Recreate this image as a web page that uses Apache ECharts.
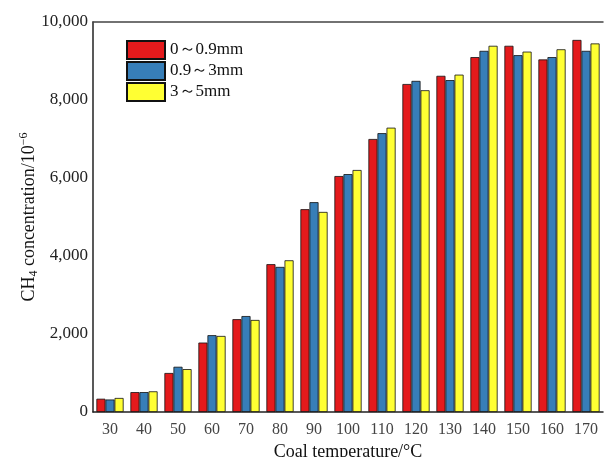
<!DOCTYPE html>
<html>
<head>
<meta charset="utf-8">
<script src="https://cdn.jsdelivr.net/npm/echarts@6/dist/echarts.min.js"></script>
<style>html,body{margin:0;padding:0;background:#fff;overflow:hidden}#c{width:604px;height:457px}</style>
</head>
<body>
<div id="c"></div>
<script>
var categories = ['30','40','50','60','70','80','90','100','110','120','130','140','150','160','170'];
var seriesNames = ['0～0.9mm', '0.9～3mm', '3～5mm'];
var fine   = [340, 510, 1000, 1780, 2380, 3790, 5200, 6050, 7000, 8410, 8620, 9100, 9390, 9040, 9540];
var medium = [320, 510, 1160, 1970, 2460, 3720, 5380, 6100, 7150, 8490, 8510, 9260, 9150, 9100, 9260];
var coarse = [360, 530, 1100, 1950, 2360, 3890, 5130, 6205, 7290, 8250, 8650, 9390, 9240, 9300, 9450];
var yTicks = [0, 2000, 4000, 6000, 8000, 10000];

var colors = ['#E41A1C', '#377EB8', '#FFFF33'];
var fontFam = '"Liberation Serif", "Times New Roman", serif';
var chart = echarts.init(document.getElementById('c'), null, {renderer: 'canvas'});

function mk(i, data) {
  return {
    name: seriesNames[i], type: 'bar', data: data,
    barGap: '0%', barCategoryGap: '20%',
    itemStyle: {color: colors[i], borderColor: '#111', borderWidth: 0.8},
    emphasis: {disabled: true}
  };
}

chart.setOption({
  animation: false,
  backgroundColor: '#fff',
  grid: {left: 93, top: 22, right: 1, bottom: 45, containLabel: false, outerBoundsMode: 'none'},
  legend: {
    orient: 'vertical', left: 126, top: 40, itemWidth: 38, itemHeight: 18, itemGap: 1,
    padding: 0,
    icon: 'rect',
    data: seriesNames,
    textStyle: {fontFamily: fontFam, fontSize: 17, color: '#111', lineHeight: 18}
  },
  xAxis: [{
    type: 'category', data: categories, position: 'bottom',
    axisLine: {lineStyle: {color: '#222', width: 1.5}},
    axisTick: {inside: true, alignWithLabel: true, length: 4, lineStyle: {color: '#222'}},
    axisLabel: {fontFamily: fontFam, fontSize: 16, color: '#444', margin: 10},
    name: 'Coal temperature/°C', nameLocation: 'middle', nameGap: 31, nameMoveOverlap: false,
    nameTextStyle: {fontFamily: fontFam, fontSize: 18, color: '#111'}
  }, {
    type: 'category', data: categories, position: 'top',
    axisLine: {show: true, lineStyle: {color: '#444', width: 1.5}},
    axisTick: {show: false}, axisLabel: {show: false}
  }],
  yAxis: {
    type: 'value', min: yTicks[0], max: yTicks[yTicks.length - 1], interval: 2000,
    axisLine: {show: true, lineStyle: {color: '#222', width: 1.5}},
    axisTick: {show: false},
    splitLine: {show: false},
    axisLabel: {fontFamily: fontFam, fontSize: 17, color: '#222', margin: 5,
      formatter: function (v) { return v.toLocaleString('en-US'); }},
    name: '{n|CH}{sub|4}{n| concentration/10}{sup|−6}',
    nameLocation: 'middle', nameRotate: 90, nameGap: 53, nameMoveOverlap: false,
    nameTextStyle: {
      fontFamily: fontFam, fontSize: 18, color: '#111',
      rich: {
        n: {fontFamily: fontFam, fontSize: 18, color: '#111', lineHeight: 22, verticalAlign: 'middle'},
        sub: {fontFamily: fontFam, fontSize: 12, color: '#111', lineHeight: 22, verticalAlign: 'bottom', padding: [8, 0, 0, 0]},
        sup: {fontFamily: fontFam, fontSize: 12, color: '#111', lineHeight: 22, verticalAlign: 'top', padding: [0, 0, 8, 0]}
      }
    }
  },
  series: [mk(0, fine), mk(1, medium), mk(2, coarse)]
});
</script>
</body>
</html>
